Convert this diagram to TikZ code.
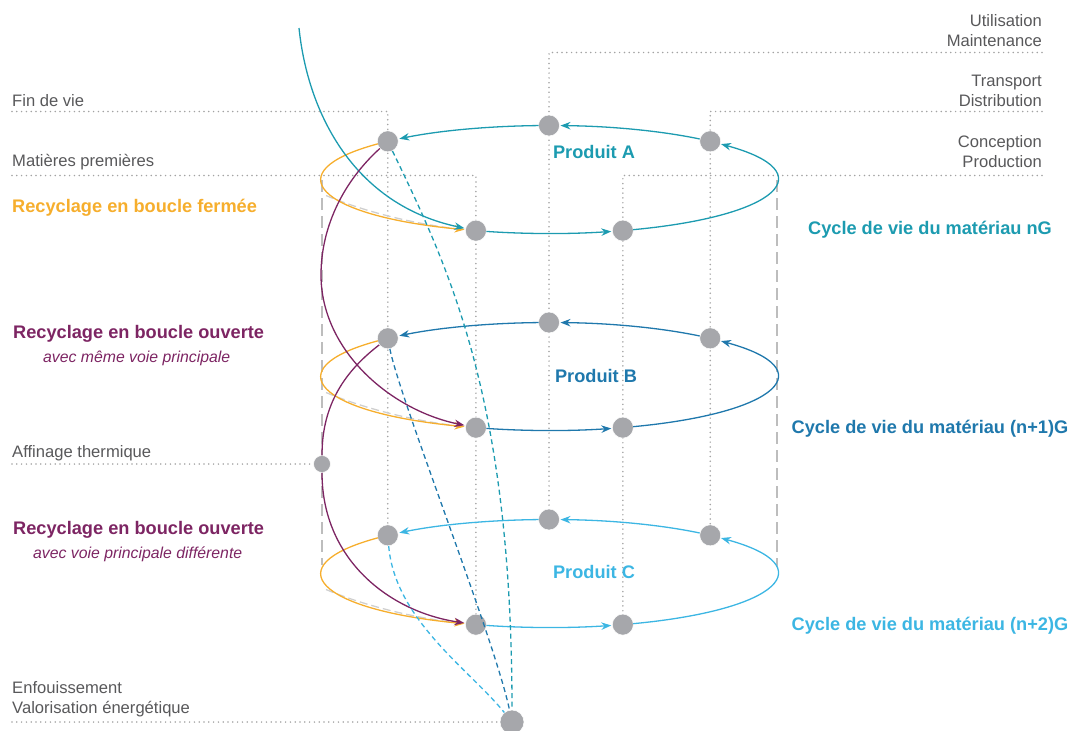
\documentclass[tikz,border=0pt]{standalone}
\usepackage{fontspec}
\setmainfont{Liberation Sans}
\usetikzlibrary{arrows.meta,calc}
\definecolor{cA}{HTML}{1C9BB0}
\definecolor{cB}{HTML}{1F78AC}
\definecolor{cC}{HTML}{3CB6E3}
\definecolor{orng}{HTML}{F6AE2D}
\definecolor{purp}{HTML}{7D2563}
\definecolor{ngray}{HTML}{A6A7AB}
\definecolor{tgray}{HTML}{58585A}
\definecolor{dgray}{HTML}{A3A3A3}
\definecolor{lgray}{HTML}{BDBDBD}
\definecolor{ggray}{HTML}{CFCFCF}
\pgfdeclarelayer{bg}
\pgfsetlayers{bg,main}
% elliptic arc (rx=228, ry=54) between two nodes lying on it, trimmed at the node borders
\newcommand\ellseg[5]{%
  \pgfmathsetmacro\da{10.5/(100*sqrt((2.28*sin(#4))^2+(0.54*cos(#4))^2))*57.2958}%
  \pgfmathsetmacro\db{11.5/(100*sqrt((2.28*sin(#5))^2+(0.54*cos(#5))^2))*57.2958}%
  \pgfmathsetmacro\ta{#4+\da}%
  \pgfmathsetmacro\tb{#5-\db}%
  \pgfmathsetmacro\kk{4/3*tan((\tb-\ta)/4)}%
  \draw[#1] ($(#2.center)+({228*(cos(\ta)-cos(#4))},{-54*(sin(\ta)-sin(#4))})$)
    .. controls +({-\kk*228*sin(\ta)},{-\kk*54*cos(\ta)}) and +({\kk*228*sin(\tb)},{\kk*54*cos(\tb)}) ..
    ($(#3.center)+({228*(cos(\tb)-cos(#5))},{-54*(sin(\tb)-sin(#5))})$);%
}
\begin{document}
\begin{tikzpicture}[x=1pt,y=-1pt,
  dot/.style={circle,fill=ngray,draw=white,line width=0.5pt,minimum size=21pt,inner sep=0pt},
  guide/.style={draw=dgray,line width=1.7pt,line cap=round,dash pattern=on 0pt off 4.8pt},
  vdash/.style={draw=lgray,line width=1.4pt,dash pattern=on 12pt off 6pt},
  ghost/.style={draw=ggray,line width=1.3pt,dash pattern=on 8pt off 4pt},
  flow/.style={line width=1.3pt,-{Stealth[length=10pt,width=7.5pt]},shorten >=1pt},
  eflow/.style={line width=1.3pt,-{Stealth[length=10pt,width=7.5pt]}},
  plain/.style={line width=1.3pt},
  dflow/.style={line width=1.3pt,dash pattern=on 5pt off 3.5pt},
  lbl/.style={text=tgray,font=\fontsize{16.6}{20}\selectfont,inner sep=0pt},
  ttl/.style={font=\bfseries\fontsize{18.2}{22}\selectfont,inner sep=0pt},
  sub/.style={font=\itshape\fontsize{15.8}{19}\selectfont,inner sep=0pt,text=purp}]
\useasboundingbox (0,0) rectangle (1072,731);

% nodes on the three ellipses
\foreach \L/\cy in {A/179.5,B/376.5,C/573.5}{
  \node[dot] (\L-U) at ({549+228*cos(90)},{\cy-54*sin(90)}) {};
  \node[dot] (\L-T) at ({549+228*cos(45)},{\cy-54*sin(45)}) {};
  \node[dot] (\L-F) at ({549+228*cos(135)},{\cy-54*sin(135)}) {};
  \node[dot] (\L-M) at ({549+228*cos(251.3)},{\cy-54*sin(251.3)}) {};
  \node[dot] (\L-C) at ({549+228*cos(288.9)},{\cy-54*sin(288.9)}) {};
}
\node[dot,minimum size=17pt] (Aff) at (322,464) {};
\node[dot,minimum size=24pt] (Bot) at (512,722) {};

% guide lines
\begin{pgfonlayer}{bg}
  \draw[guide] (12,111.5) -| (C-F.center);
  \draw[guide] (12,175.5) -| (C-M.center);
  \draw[guide] (1042,52.5) -| (C-U.center);
  \draw[guide] (1042,111.5) -| (C-T.center);
  \draw[guide] (1042,175.5) -| (C-C.center);
  \draw[guide] (12,464) -- (Aff.center);
  \draw[guide] (12,722) -- (Bot.center);
  \draw[vdash] (322,180) -- (322,565);
  \draw[vdash] (777,180) -- (777,567);
  \foreach \L/\cy in {A/179.5,B/376.5,C/573.5}{
    \draw[ghost] (326,{\cy+16}) .. controls (370,{\cy+34.5}) and (425,{\cy+46.5}) .. (\L-M);
  }
\end{pgfonlayer}

% ellipse segments
\foreach \L/\col in {A/cA,B/cB,C/cC}{
  \ellseg{eflow,draw=\col}{\L-T}{\L-U}{45}{90}
  \ellseg{eflow,draw=\col}{\L-U}{\L-F}{90}{135}
  \ellseg{eflow,draw=orng}{\L-F}{\L-M}{135}{251.3}
  \ellseg{eflow,draw=\col}{\L-M}{\L-C}{251.3}{288.9}
  \ellseg{eflow,draw=\col}{\L-C}{\L-T}{288.9}{405}
}

% incoming teal curve
\coordinate (Top) at (299,28);
\draw[flow,draw=cA] (Top) .. controls (308,115) and (355,205) .. (A-M);

% purple open-loop recycling
\coordinate (P1) at (321,275);
\draw[flow,draw=purp] (A-F) .. controls (345,180) and (321,225) .. (P1) .. controls (321,350) and (390,410) .. (B-M);
\draw[plain,draw=purp] (B-F) .. controls (340,375) and (322,410) .. (Aff);
\draw[flow,draw=purp] (Aff) .. controls (322,560) and (390,612) .. (C-M);

% dashed lines to landfill / energy recovery
\draw[dflow,draw=cA] (A-F) .. controls (450,270) and (512,400) .. (Bot);
\draw[dflow,draw=cB] (B-F) .. controls (400,400) and (495,640) .. (Bot);
\draw[dflow,draw=cC] (C-F) .. controls (395,620) and (470,670) .. (Bot);

% left labels
\node[lbl,anchor=base west] (tFin) at (12,106) {Fin de vie};
\node[lbl,anchor=base west] (tMat) at (12,166.5) {Matières premières};
\node[lbl,anchor=base west] (tAff) at (12,457) {Affinage thermique};
\node[lbl,anchor=base west] (tEnf) at (12,693) {Enfouissement};
\node[lbl,anchor=base west] (tVal) at (12,713) {Valorisation énergétique};
% right labels
\node[lbl,anchor=base east] (tUti) at (1042,26.5) {Utilisation};
\node[lbl,anchor=base east] (tMai) at (1042,46) {Maintenance};
\node[lbl,anchor=base east] (tTra) at (1042,86.5) {Transport};
\node[lbl,anchor=base east] (tDis) at (1042,106.5) {Distribution};
\node[lbl,anchor=base east] (tCon) at (1042,147) {Conception};
\node[lbl,anchor=base east] (tPro) at (1042,167) {Production};

% titles
\node[ttl,text=orng,anchor=base west] (rFer) at (12,212) {Recyclage en boucle fermée};
\node[ttl,text=purp,anchor=base west] (rOu1) at (13,338) {Recyclage en boucle ouverte};
\node[sub,anchor=base west] (sOu1) at (43,362.5) {avec même voie principale};
\node[ttl,text=purp,anchor=base west] (rOu2) at (13,534) {Recyclage en boucle ouverte};
\node[sub,anchor=base west] (sOu2) at (33,558) {avec voie principale différente};

\node[ttl,text=cA,anchor=base] (pA) at (594,158) {Produit A};
\node[ttl,text=cB,anchor=base] (pB) at (596,382) {Produit B};
\node[ttl,text=cC,anchor=base] (pC) at (594,578) {Produit C};

\node[ttl,text=cA,anchor=base] (cyA) at (930,234) {Cycle de vie du matériau nG};
\node[ttl,text=cB,anchor=base] (cyB) at (930,433) {Cycle de vie du matériau (n+1)G};
\node[ttl,text=cC,anchor=base] (cyC) at (930,630) {Cycle de vie du matériau (n+2)G};
\end{tikzpicture}
\end{document}
